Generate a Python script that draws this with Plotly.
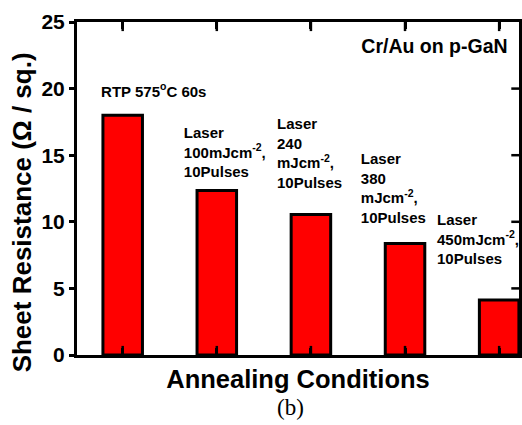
import plotly.graph_objects as go

# ---- data ----
conditions = [1, 2, 3, 4, 5]
sheet_resistance = [18.0, 12.35, 10.55, 8.38, 4.12]
y_ticks = [0, 5, 10, 15, 20, 25]

label_texts = [
    "<b>RTP 575<sup>o</sup>C 60s</b>",
    "<b>Laser<br>100mJcm<sup>-2</sup>,<br>10Pulses</b>",
    "<b>Laser<br>240<br>mJcm<sup>-2</sup>,<br>10Pulses</b>",
    "<b>Laser<br>380<br>mJcm<sup>-2</sup>,<br>10Pulses</b>",
    "<b>Laser<br>450mJcm<sup>-2</sup>,<br>10Pulses</b>",
]
# label anchor positions (data coordinates)
label_x = [0.77, 1.65, 2.64, 3.53, 4.34]
label_y = [19.67, 15.09, 15.02, 12.39, 8.56]
note_text = "<b>Cr/Au on p-GaN</b>"

x_range = [0.5145, 5.211]
y_range = [0, 25]

W, H = 522, 425
L, R, T, B = 77, 0, 22, 70
x0, x1 = L, W - R
y0, y1 = T, H - B

def px(x):
    return (x - x0) / (x1 - x0)

def py(y):
    return (y1 - y) / (y1 - y0)

font = "Liberation Sans"

fig = go.Figure()
fig.add_trace(go.Bar(
    x=conditions, y=sheet_resistance, width=0.42,
    marker=dict(color="#FF0000", line=dict(color="black", width=3)),
))
# inward tick marks on bottom/top/right frame (half of each marker is clipped by the plot area)
tick_marker_ns = dict(symbol="line-ns", size=13, line=dict(width=2.5, color="black"))
tick_marker_ew = dict(symbol="line-ew", size=11, line=dict(width=2.5, color="black"))
fig.add_trace(go.Scatter(x=conditions, y=[y_range[0]] * len(conditions), mode="markers",
                         marker=tick_marker_ns, hoverinfo="skip", cliponaxis=True))
fig.add_trace(go.Scatter(x=conditions, y=[y_range[1]] * len(conditions), mode="markers",
                         marker=tick_marker_ns, hoverinfo="skip", cliponaxis=True))
fig.add_trace(go.Scatter(x=[x_range[1]] * (len(y_ticks) - 2), y=y_ticks[1:-1], mode="markers",
                         marker=tick_marker_ew, hoverinfo="skip", cliponaxis=True))
fig.add_trace(go.Scatter(
    x=label_x, y=label_y, text=label_texts, mode="text", textposition="middle right",
    textfont=dict(family=font, size=15, color="black"), hoverinfo="skip",
))
fig.add_trace(go.Scatter(
    x=[5.09], y=[23.05], text=[note_text], mode="text", textposition="middle left",
    textfont=dict(family=font, size=19.5, color="black"), hoverinfo="skip",
))

ann = [
    dict(text="<b>Sheet Resistance (Ω / sq.)</b>", x=px(22), y=py(212), xref="paper", yref="paper",
         xanchor="center", yanchor="middle", textangle=-90, showarrow=False,
         font=dict(family=font, size=26, color="black")),
    dict(text="(b)", x=px(292), y=py(407), xref="paper", yref="paper",
         xanchor="center", yanchor="middle", showarrow=False,
         font=dict(family="Liberation Serif", size=23, color="black")),
]

fig.update_layout(
    width=W, height=H, margin=dict(l=L, r=R, t=T, b=B),
    paper_bgcolor="white", plot_bgcolor="white", showlegend=False,
    annotations=ann,
    xaxis=dict(range=x_range, tickmode="array", tickvals=conditions, showticklabels=False,
               ticks="inside", ticklen=7, tickwidth=3, tickcolor="black",
               showline=True, linewidth=3, linecolor="black", mirror="ticks",
               showgrid=False, zeroline=False,
               title=dict(text="<b>Annealing Conditions</b>", standoff=14,
                          font=dict(family=font, size=25.5, color="black"))),
    yaxis=dict(range=y_range, tickmode="array", tickvals=y_ticks,
               ticktext=["<b>%d</b>" % v for v in y_ticks],
               ticks="outside", ticklen=5, tickwidth=3,
               tickcolor="black", showline=True, linewidth=3, linecolor="black", mirror=True,
               showgrid=False, zeroline=False,
               tickfont=dict(family=font, size=21, color="black", weight="bold")),
)

fig.write_html("out.html")
